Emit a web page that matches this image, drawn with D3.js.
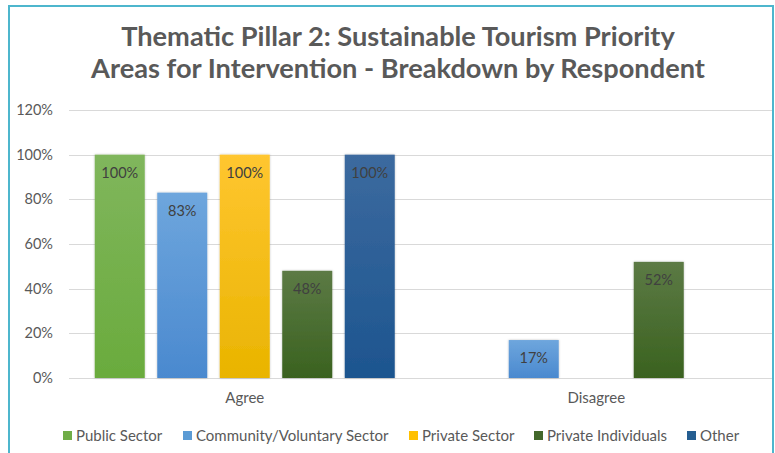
<!DOCTYPE html>
<html>
<head>
<meta charset="utf-8">
<script src="https://cdn.jsdelivr.net/npm/d3@7"></script>
<style>
  html, body { margin: 0; padding: 0; background: #fff; }
  svg { display: block; font-family: Lato, "Open Sans", sans-serif; }
</style>
</head>
<body>
<svg id="chart" width="775" height="453"></svg>
<script>
// Survey responses by respondent type
const categories = ["Agree", "Disagree"];
const seriesNames = ["Public Sector", "Community/Voluntary Sector", "Private Sector", "Private Individuals", "Other"];
const publicSector = [1.00, 0];
const communityVoluntary = [0.83, 0.17];
const privateSector = [1.00, 0];
const privateIndividuals = [0.48, 0.52];
const other = [1.00, 0];
const yTicks = [0, 0.2, 0.4, 0.6, 0.8, 1.0, 1.2];
const titleLines = ["Thematic Pillar 2: Sustainable Tourism Priority", "Areas for Intervention - Breakdown by Respondent"];

const seriesValues = [publicSector, communityVoluntary, privateSector, privateIndividuals, other];
// top / bottom gradient stops per series
const colors = [
  ["#80b65c", "#6aab3d"],
  ["#6ea6dd", "#4a89cf"],
  ["#ffc630", "#e9b400"],
  ["#5c7a45", "#3a621f"],
  ["#3c6a9f", "#1d558f"]
];
const legendColors = ["#70ad47", "#5b9bd5", "#ffc000", "#43682b", "#255e91"];

const svg = d3.select("#chart");

// outer frame
svg.append("rect").attr("x", 9).attr("y", 6).attr("width", 764).attr("height", 460)
  .attr("fill", "none").attr("stroke", "#4db6cd").attr("stroke-width", 2);

const defs = svg.append("defs");
colors.forEach((c, i) => {
  const g = defs.append("linearGradient").attr("id", "grad" + i)
    .attr("x1", 0).attr("y1", 0).attr("x2", 0).attr("y2", 1);
  g.append("stop").attr("offset", "0%").attr("stop-color", c[0]);
  g.append("stop").attr("offset", "100%").attr("stop-color", c[1]);
});
const shadow = defs.append("filter").attr("id", "shadow")
  .attr("x", "-20%").attr("y", "-20%").attr("width", "140%").attr("height", "140%");
shadow.append("feDropShadow").attr("dx", 0).attr("dy", 0).attr("stdDeviation", 1.2)
  .attr("flood-color", "#000").attr("flood-opacity", 0.25);

// title
const title = svg.append("text").attr("text-anchor", "middle")
  .attr("fill", "#595959").attr("font-weight", "bold").attr("font-size", 27.2);
titleLines.forEach((t, i) => {
  title.append("tspan").attr("x", 398).attr("y", 46 + i * 32).text(t);
});

const plot = { left: 69, right: 772, top: 110, bottom: 378 };

const y = d3.scaleLinear().domain([0, 1.2]).range([plot.bottom, plot.top]);
const x0 = d3.scaleBand().domain(categories).range([plot.left, plot.right]).paddingInner(0).paddingOuter(0);
const inner = (x0.bandwidth() - 300) / 2;
const x1 = d3.scaleBand().domain(d3.range(seriesNames.length))
  .range([inner, x0.bandwidth() - inner]).paddingInner(0.2).paddingOuter(0);

// gridlines
svg.append("g").selectAll("line").data(yTicks).join("line")
  .attr("x1", plot.left).attr("x2", plot.right)
  .attr("y1", d => Math.round(y(d)) + 0.5).attr("y2", d => Math.round(y(d)) + 0.5)
  .attr("stroke", "#d9d9d9").attr("stroke-width", 1.2);

// y axis labels
const yAxis = d3.axisLeft(y).tickValues(yTicks).tickFormat(d3.format(".0%")).tickSize(0).tickPadding(0);
const yg = svg.append("g").attr("transform", `translate(${53},0)`).call(yAxis);
yg.select(".domain").remove();
yg.selectAll("text").attr("fill", "#595959").attr("font-size", 14.5)
  .attr("font-family", "Lato, sans-serif");

// x axis labels
const xAxis = d3.axisBottom(x0).tickSize(0).tickPadding(0);
const xg = svg.append("g").attr("transform", `translate(0,${392})`).call(xAxis);
xg.select(".domain").remove();
xg.selectAll("text").attr("fill", "#595959").attr("font-size", 15)
  .attr("font-family", "Lato, sans-serif");

// bars
const groups = svg.append("g").selectAll("g").data(categories).join("g")
  .attr("transform", d => `translate(${x0(d)},0)`);

groups.each(function(cat, ci) {
  const g = d3.select(this);
  seriesValues.forEach((vals, si) => {
    const v = vals[ci];
    if (!v) return;
    g.append("rect")
      .attr("x", x1(si)).attr("width", x1.bandwidth())
      .attr("y", y(v)).attr("height", y(0) - y(v))
      .attr("fill", `url(#grad${si})`).attr("filter", "url(#shadow)");
    g.append("text")
      .attr("x", x1(si) + x1.bandwidth() / 2).attr("y", y(v) + 23)
      .attr("text-anchor", "middle").attr("fill", "#404040").attr("font-size", 14.5)
      .text(d3.format(".0%")(v));
  });
});

// legend
const legendX = [63, 183, 409, 534, 687];
const legend = svg.append("g");
seriesNames.forEach((name, i) => {
  legend.append("rect").attr("x", legendX[i]).attr("y", 431).attr("width", 9).attr("height", 9)
    .attr("fill", legendColors[i]);
  legend.append("text").attr("x", legendX[i] + 13).attr("y", 440.5)
    .attr("fill", "#595959").attr("font-size", 15).text(name);
});
</script>
</body>
</html>
